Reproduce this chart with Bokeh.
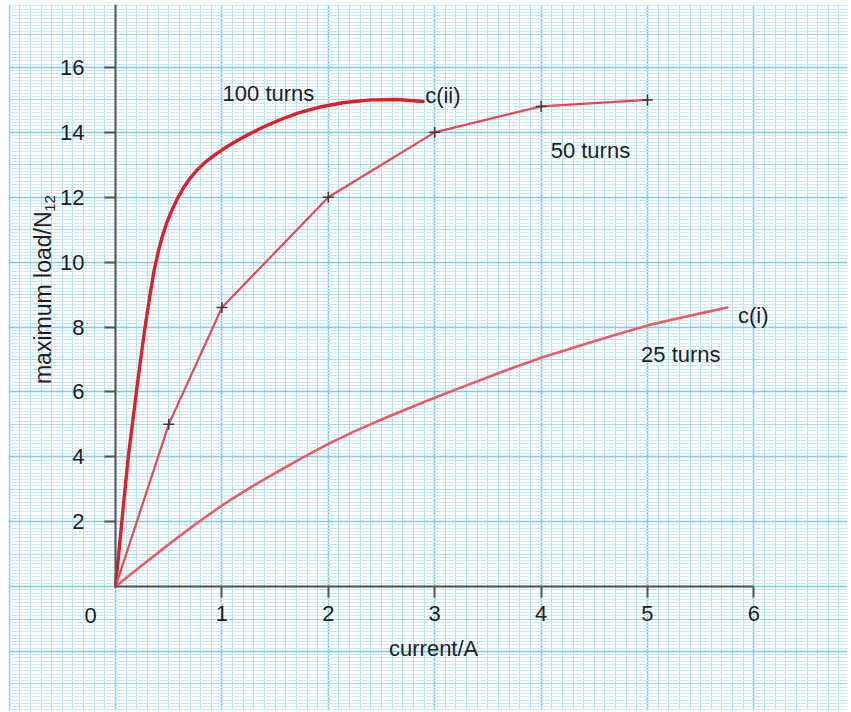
import numpy as np
from bokeh.plotting import figure
from bokeh.models import LinearAxis, FixedTicker, Grid, ColumnDataSource
from bokeh.core.properties import value
from bokeh.embed import file_html
from bokeh.resources import INLINE

# ---- data ----
turns100_x = [0, 0.04, 0.08, 0.12, 0.16, 0.20, 0.24, 0.28, 0.32, 0.36, 0.40, 0.44,
              0.48, 0.53, 0.58, 0.64, 0.70, 0.77, 0.85, 0.93, 1.02, 1.12, 1.24,
              1.38, 1.54, 1.72, 1.92, 2.15, 2.40, 2.65, 2.89]
turns100_y = [0, 1.35, 2.7, 4.0, 5.05, 6.1, 7.1, 8.05, 8.9, 9.7, 10.3, 10.8,
              11.2, 11.6, 11.95, 12.3, 12.58, 12.85, 13.1, 13.3, 13.5, 13.7, 13.92,
              14.15, 14.38, 14.6, 14.78, 14.92, 15.0, 15.01, 14.95]

turns50_x = [0, 0.5, 1, 2, 3, 4, 5]
turns50_y = [0, 5.0, 8.6, 12.0, 14.0, 14.8, 15.0]

turns25_x = [0, 0.25, 0.5, 0.75, 1, 1.25, 1.5, 1.75, 2, 2.25, 2.5, 2.75, 3, 3.25,
             3.5, 3.75, 4, 4.25, 4.5, 4.75, 5, 5.25, 5.5, 5.75]
turns25_y = [0, 0.66, 1.3, 1.92, 2.5, 3.02, 3.5, 3.96, 4.4, 4.79, 5.15, 5.49, 5.82, 6.14,
             6.45, 6.76, 7.05, 7.31, 7.56, 7.81, 8.05, 8.24, 8.42, 8.6]

x_ticks = [1, 2, 3, 4, 5, 6]
y_ticks = [2, 4, 6, 8, 10, 12, 14, 16]

FONT = "Liberation Sans"
TXT = "#1e1e1e"

p = figure(width=851, height=712, output_backend="svg", toolbar_location=None,
           x_range=(-1.006, 6.88), y_range=(-3.82, 17.94),
           x_axis_location=None, y_axis_location=None,
           min_border_left=8, min_border_top=4, min_border_right=4, min_border_bottom=2,
           background_fill_color="white", border_fill_color="white")
p.outline_line_color = None

# ---- graph paper ----
p.xgrid.ticker = FixedTicker(ticks=list(range(-1, 8)),
                             minor_ticks=[round(v, 2) for v in np.arange(-1, 7, 0.1)])
p.xgrid.grid_line_color = "#7ccbec"
p.xgrid.grid_line_width = 1.6
p.xgrid.minor_grid_line_color = "#b2dff4"
p.xgrid.minor_grid_line_width = 1

p.ygrid.ticker = FixedTicker(ticks=list(range(-4, 19, 2)),
                             minor_ticks=[round(v, 2) for v in np.arange(-4, 18.01, 0.1)])
p.ygrid.grid_line_color = "#7ccbec"
p.ygrid.grid_line_width = 1.6
p.ygrid.minor_grid_line_color = "#cbeaf8"
p.ygrid.minor_grid_line_width = 1

mid_y = Grid(dimension=1, ticker=FixedTicker(ticks=list(range(-3, 18, 2))),
             grid_line_color="#a6daf2", grid_line_width=1)
p.add_layout(mid_y)

# ---- axes at the origin ----
xa = LinearAxis(fixed_location=0, ticker=FixedTicker(ticks=x_ticks), bounds=(0, 6))
ya = LinearAxis(fixed_location=0, ticker=FixedTicker(ticks=y_ticks), bounds=(0, 17.93))
for ax in (xa, ya):
    ax.axis_line_color = "#555555"
    ax.axis_line_width = 2
    ax.major_tick_line_color = "#555555"
    ax.major_tick_line_width = 2
    ax.major_tick_in = 0
    ax.major_tick_out = 11
    ax.minor_tick_line_color = None
    ax.major_label_text_font = FONT
    ax.major_label_text_font_size = "22px"
    ax.major_label_text_color = TXT
xa.major_label_standoff = 8
ya.major_label_standoff = 20
p.add_layout(xa, "below")
p.add_layout(ya, "left")

# ---- curves ----
p.line(turns100_x, turns100_y, line_color="#e31d25", line_width=3.4, line_join="round", line_cap="round")
p.line(turns50_x, turns50_y, line_color="#e8474c", line_width=2.2)
p.scatter(turns50_x[1:], turns50_y[1:], marker="cross", size=11, line_color="#3a3a3a", line_width=1.5)
p.line(turns25_x, turns25_y, line_color="#ee5b5f", line_width=2.6, line_join="round", line_cap="round")

# ---- annotations ----
lab = ColumnDataSource(dict(
    x=[1.006, 2.91, 4.09, 5.85, 4.94],
    y=[15.2, 15.13, 13.44, 8.36, 7.15],
    t=["100 turns", "c(ii)", "50 turns", "c(i)", "25 turns"]))
p.text(x="x", y="y", text="t", source=lab, text_font=value(FONT), text_font_size="22px",
       text_color=TXT, text_align="left", text_baseline="alphabetic")

p.text(x=[-0.235], y=[-0.89], text=["0"], text_font=value(FONT), text_font_size="22px",
       text_color=TXT, text_align="center", text_baseline="middle")
p.text(x=[2.99], y=[-1.9], text=["current/A"], text_font=value(FONT), text_font_size="22px",
       text_color=TXT, text_align="center", text_baseline="alphabetic")
p.text(x=[-0.68], y=[11.56], text=["maximum load/N"], angle=np.pi / 2,
       text_font=value(FONT), text_font_size="23px",
       text_color=TXT, text_align="right", text_baseline="alphabetic")
p.text(x=[-0.62], y=[11.55], text=["12"], angle=np.pi / 2,
       text_font=value(FONT), text_font_size="15px",
       text_color=TXT, text_align="left", text_baseline="alphabetic")

open("out.html", "w").write(file_html(p, INLINE))
